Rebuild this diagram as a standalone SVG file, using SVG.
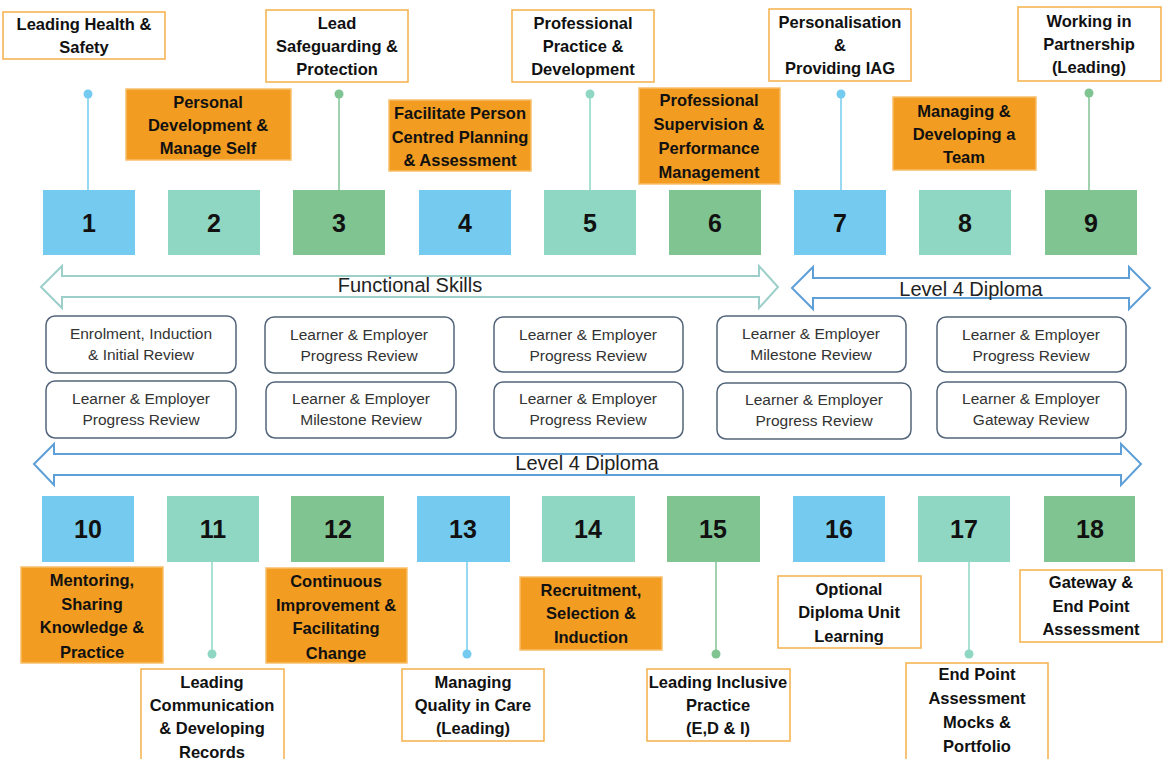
<svg xmlns="http://www.w3.org/2000/svg" width="1166" height="759" viewBox="0 0 1166 759">
<style>
.sq-b{fill:#75CBEF;}
.sq-t{fill:#8FD7C3;}
.sq-g{fill:#80C492;}
.num{font-family:"Liberation Sans",Arial,sans-serif;font-weight:bold;font-size:25px;fill:#111;text-anchor:middle;}
.lw{fill:#fff;stroke:#F5B04A;stroke-width:1.5;}
.lo{fill:#F29C21;stroke:#F7BE6A;stroke-width:1.5;}
.lt{font-family:"Liberation Sans",Arial,sans-serif;font-weight:bold;font-size:16.5px;fill:#111;text-anchor:middle;}
.rv{fill:#fff;stroke:#52647A;stroke-width:1.5;}
.rt{font-family:"Liberation Sans",Arial,sans-serif;font-size:15.5px;fill:#333;text-anchor:middle;}
.bt{font-family:"Liberation Sans",Arial,sans-serif;font-size:20px;fill:#222;text-anchor:middle;}
.fs{fill:#fff;stroke:#9CCFC9;stroke-width:2;}
.l4{fill:#fff;stroke:#5E9FD8;stroke-width:2;}
.cb{stroke:#75CBEF;stroke-width:1.5;fill:none;}
.ct{stroke:#8FD7C3;stroke-width:1.5;fill:none;}
.cg{stroke:#80C492;stroke-width:1.5;fill:none;}
.db{fill:#75CBEF;}
.dt{fill:#8FD7C3;}
.dg{fill:#80C492;}
</style>
<rect width="1166" height="759" fill="#fff"/>

<g id="connectors">
<line class="cb" x1="88" y1="94" x2="88" y2="190"/><circle class="db" cx="88" cy="94" r="4.5"/>
<line class="cg" x1="339" y1="94" x2="339" y2="190"/><circle class="dg" cx="339" cy="94" r="4.5"/>
<line class="ct" x1="590" y1="94" x2="590" y2="190"/><circle class="dt" cx="590" cy="94" r="4.5"/>
<line class="cb" x1="841" y1="94" x2="841" y2="190"/><circle class="db" cx="841" cy="94" r="4.5"/>
<line class="cg" x1="1089" y1="93" x2="1089" y2="190"/><circle class="dg" cx="1089" cy="93" r="4.5"/>
<line class="ct" x1="212" y1="562" x2="212" y2="654"/><circle class="dt" cx="212" cy="654" r="4.5"/>
<line class="cb" x1="467" y1="562" x2="467" y2="654"/><circle class="db" cx="467" cy="654" r="4.5"/>
<line class="cg" x1="716" y1="562" x2="716" y2="654"/><circle class="dg" cx="716" cy="654" r="4.5"/>
<line class="ct" x1="969" y1="562" x2="969" y2="654"/><circle class="dt" cx="969" cy="654" r="4.5"/>
</g>

<g id="band-functional-skills">
<polygon class="fs" points="41,287 62,266 62,276 759,276 759,266 778,287 759,308 759,297 62,297 62,308"/>
<text class="bt" x="410" y="292">Functional Skills</text>
</g>
<g id="band-level4-top">
<polygon class="l4" points="792,288 813,267 813,278 1129,278 1129,267 1150,288 1129,309 1129,298 813,298 813,309"/>
<text class="bt" x="971" y="296">Level 4 Diploma</text>
</g>
<g id="band-level4-bottom">
<polygon class="l4" points="34,464 54,444 54,454 1121,454 1121,444 1141,464 1121,485 1121,475 54,475 54,485"/>
<text class="bt" x="587" y="470">Level 4 Diploma</text>
</g>

<!-- top number squares -->
<g id="n1"><rect class="sq-b" x="43" y="190" width="92" height="65"/><text class="num" x="89" y="232">1</text></g>
<g id="n2"><rect class="sq-t" x="168" y="190" width="92" height="65"/><text class="num" x="214" y="232">2</text></g>
<g id="n3"><rect class="sq-g" x="293" y="190" width="92" height="65"/><text class="num" x="339" y="232">3</text></g>
<g id="n4"><rect class="sq-b" x="419" y="190" width="92" height="65"/><text class="num" x="465" y="232">4</text></g>
<g id="n5"><rect class="sq-t" x="544" y="190" width="92" height="65"/><text class="num" x="590" y="232">5</text></g>
<g id="n6"><rect class="sq-g" x="669" y="190" width="92" height="65"/><text class="num" x="715" y="232">6</text></g>
<g id="n7"><rect class="sq-b" x="794" y="190" width="92" height="65"/><text class="num" x="840" y="232">7</text></g>
<g id="n8"><rect class="sq-t" x="919" y="190" width="92" height="65"/><text class="num" x="965" y="232">8</text></g>
<g id="n9"><rect class="sq-g" x="1045" y="190" width="92" height="65"/><text class="num" x="1091" y="232">9</text></g>

<!-- bottom number squares -->
<g id="n10"><rect class="sq-b" x="42" y="496" width="92" height="66"/><text class="num" x="88" y="538">10</text></g>
<g id="n11"><rect class="sq-t" x="167" y="496" width="92" height="66"/><text class="num" x="213" y="538">11</text></g>
<g id="n12"><rect class="sq-g" x="291" y="496" width="93" height="66"/><text class="num" x="338" y="538">12</text></g>
<g id="n13"><rect class="sq-b" x="417" y="496" width="93" height="66"/><text class="num" x="463" y="538">13</text></g>
<g id="n14"><rect class="sq-t" x="542" y="496" width="93" height="66"/><text class="num" x="588" y="538">14</text></g>
<g id="n15"><rect class="sq-g" x="667" y="496" width="93" height="66"/><text class="num" x="713" y="538">15</text></g>
<g id="n16"><rect class="sq-b" x="793" y="496" width="92" height="66"/><text class="num" x="839" y="538">16</text></g>
<g id="n17"><rect class="sq-t" x="918" y="496" width="92" height="66"/><text class="num" x="964" y="538">17</text></g>
<g id="n18"><rect class="sq-g" x="1044" y="496" width="91" height="66"/><text class="num" x="1090" y="538">18</text></g>

<!-- top labels -->
<g id="l1"><rect class="lw" x="3" y="12" width="162" height="47"/><text class="lt" x="84" y="30">Leading Health &amp;</text><text class="lt" x="84" y="53">Safety</text></g>
<g id="l2"><rect class="lo" x="126" y="89" width="165" height="71"/><text class="lt" x="208" y="108">Personal</text><text class="lt" x="208" y="131">Development &amp;</text><text class="lt" x="208" y="154">Manage Self</text></g>
<g id="l3"><rect class="lw" x="266" y="10" width="142" height="72"/><text class="lt" x="337" y="29">Lead</text><text class="lt" x="337" y="52">Safeguarding &amp;</text><text class="lt" x="337" y="75">Protection</text></g>
<g id="l4"><rect class="lo" x="389" y="100" width="142" height="71"/><text class="lt" x="460" y="119">Facilitate Person</text><text class="lt" x="460" y="143">Centred Planning</text><text class="lt" x="460" y="166">&amp; Assessment</text></g>
<g id="l5"><rect class="lw" x="512" y="10" width="142" height="72"/><text class="lt" x="583" y="29">Professional</text><text class="lt" x="583" y="52">Practice &amp;</text><text class="lt" x="583" y="75">Development</text></g>
<g id="l6"><rect class="lo" x="639" y="88" width="141" height="96"/><text class="lt" x="709" y="106">Professional</text><text class="lt" x="709" y="130">Supervision &amp;</text><text class="lt" x="709" y="154">Performance</text><text class="lt" x="709" y="178">Management</text></g>
<g id="l7"><rect class="lw" x="769" y="9" width="142" height="72"/><text class="lt" x="840" y="28">Personalisation</text><text class="lt" x="840" y="51">&amp;</text><text class="lt" x="840" y="74">Providing IAG</text></g>
<g id="l8"><rect class="lo" x="893" y="97" width="143" height="73"/><text class="lt" x="964" y="117">Managing &amp;</text><text class="lt" x="964" y="140">Developing a</text><text class="lt" x="964" y="163">Team</text></g>
<g id="l9"><rect class="lw" x="1018" y="7" width="143" height="74"/><text class="lt" x="1089" y="27">Working in</text><text class="lt" x="1089" y="50">Partnership</text><text class="lt" x="1089" y="73">(Leading)</text></g>

<!-- bottom labels -->
<g id="l10"><rect class="lo" x="21" y="567" width="142" height="96"/><text class="lt" x="92" y="586">Mentoring,</text><text class="lt" x="92" y="610">Sharing</text><text class="lt" x="92" y="633">Knowledge &amp;</text><text class="lt" x="92" y="658">Practice</text></g>
<g id="l11"><rect class="lw" x="141" y="669" width="143" height="97"/><text class="lt" x="212" y="688">Leading</text><text class="lt" x="212" y="711">Communication</text><text class="lt" x="212" y="734">&amp; Developing</text><text class="lt" x="212" y="758">Records</text></g>
<g id="l12"><rect class="lo" x="266" y="568" width="141" height="95"/><text class="lt" x="336" y="587">Continuous</text><text class="lt" x="336" y="611">Improvement &amp;</text><text class="lt" x="336" y="634">Facilitating</text><text class="lt" x="336" y="659">Change</text></g>
<g id="l13"><rect class="lw" x="402" y="669" width="142" height="72"/><text class="lt" x="473" y="688">Managing</text><text class="lt" x="473" y="711">Quality in Care</text><text class="lt" x="473" y="734">(Leading)</text></g>
<g id="l14"><rect class="lo" x="520" y="577" width="142" height="73"/><text class="lt" x="591" y="596">Recruitment,</text><text class="lt" x="591" y="619">Selection &amp;</text><text class="lt" x="591" y="643">Induction</text></g>
<g id="l15"><rect class="lw" x="647" y="669" width="143" height="72"/><text class="lt" x="718" y="688">Leading Inclusive</text><text class="lt" x="718" y="711">Practice</text><text class="lt" x="718" y="734">(E,D &amp; I)</text></g>
<g id="l16"><rect class="lw" x="778" y="576" width="143" height="72"/><text class="lt" x="849" y="595">Optional</text><text class="lt" x="849" y="618">Diploma Unit</text><text class="lt" x="849" y="642">Learning</text></g>
<g id="l17"><rect class="lw" x="906" y="663" width="142" height="102"/><text class="lt" x="977" y="680">End Point</text><text class="lt" x="977" y="704">Assessment</text><text class="lt" x="977" y="728">Mocks &amp;</text><text class="lt" x="977" y="752">Portfolio</text></g>
<g id="l18"><rect class="lw" x="1020" y="570" width="142" height="72"/><text class="lt" x="1091" y="588">Gateway &amp;</text><text class="lt" x="1091" y="612">End Point</text><text class="lt" x="1091" y="635">Assessment</text></g>

<!-- review boxes -->
<g id="r1"><rect class="rv" x="46" y="316" width="190" height="57" rx="9"/><text class="rt" x="141" y="339">Enrolment, Induction</text><text class="rt" x="141" y="360">&amp; Initial Review</text></g>
<g id="r2"><rect class="rv" x="265" y="317" width="189" height="56" rx="9"/><text class="rt" x="359" y="340">Learner &amp; Employer</text><text class="rt" x="359" y="361">Progress Review</text></g>
<g id="r3"><rect class="rv" x="494" y="317" width="189" height="55" rx="9"/><text class="rt" x="588" y="340">Learner &amp; Employer</text><text class="rt" x="588" y="361">Progress Review</text></g>
<g id="r4"><rect class="rv" x="717" y="316" width="189" height="56" rx="9"/><text class="rt" x="811" y="339">Learner &amp; Employer</text><text class="rt" x="811" y="360">Milestone Review</text></g>
<g id="r5"><rect class="rv" x="937" y="317" width="189" height="55" rx="9"/><text class="rt" x="1031" y="340">Learner &amp; Employer</text><text class="rt" x="1031" y="361">Progress Review</text></g>
<g id="r6"><rect class="rv" x="46" y="381" width="190" height="57" rx="9"/><text class="rt" x="141" y="404">Learner &amp; Employer</text><text class="rt" x="141" y="425">Progress Review</text></g>
<g id="r7"><rect class="rv" x="266" y="382" width="190" height="56" rx="9"/><text class="rt" x="361" y="404">Learner &amp; Employer</text><text class="rt" x="361" y="425">Milestone Review</text></g>
<g id="r8"><rect class="rv" x="494" y="382" width="189" height="56" rx="9"/><text class="rt" x="588" y="404">Learner &amp; Employer</text><text class="rt" x="588" y="425">Progress Review</text></g>
<g id="r9"><rect class="rv" x="717" y="383" width="194" height="56" rx="9"/><text class="rt" x="814" y="405">Learner &amp; Employer</text><text class="rt" x="814" y="426">Progress Review</text></g>
<g id="r10"><rect class="rv" x="937" y="382" width="189" height="56" rx="9"/><text class="rt" x="1031" y="404">Learner &amp; Employer</text><text class="rt" x="1031" y="425">Gateway Review</text></g>
</svg>
